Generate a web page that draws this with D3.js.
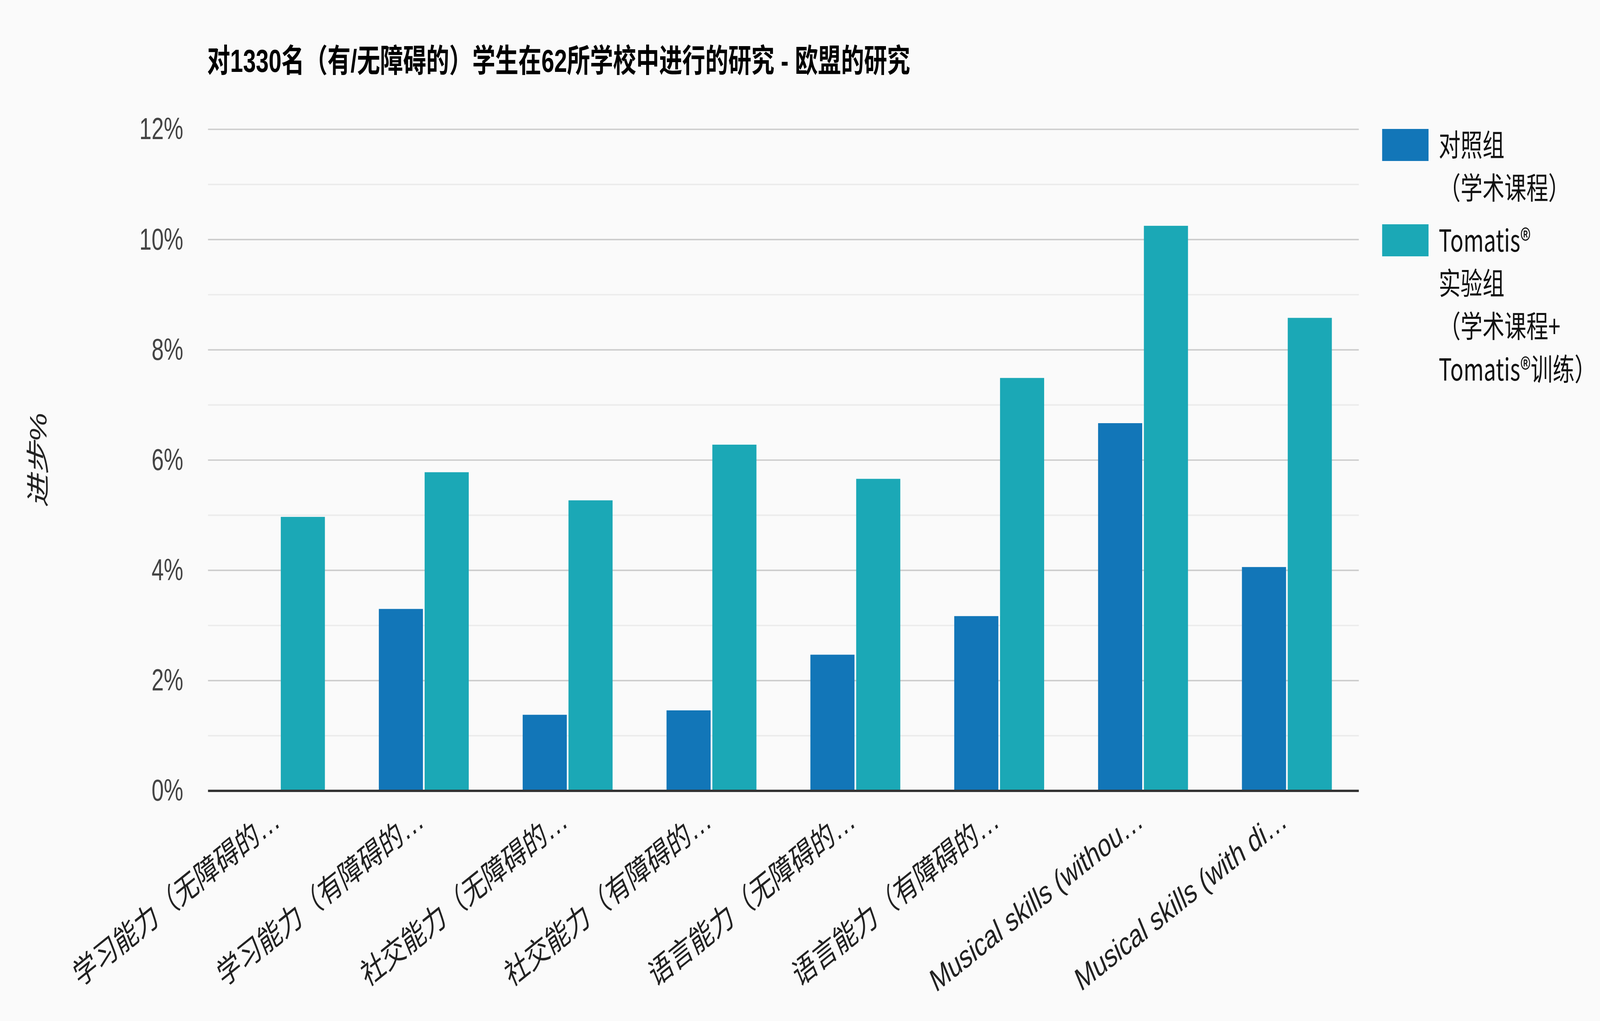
<!DOCTYPE html>
<html>
<head>
<meta charset="utf-8">
<style>
  html, body { margin: 0; padding: 0; background: #fafafa; overflow: hidden; }
  svg { display: block; width: 100vw; height: 100vh; }
</style>
<script src="https://cdn.jsdelivr.net/npm/d3@7/dist/d3.min.js"></script>
</head>
<body>
<svg id="chart"></svg>
<script>
  // data
  var title = "对1330名（有/无障碍的）学生在62所学校中进行的研究 - 欧盟的研究";
  var yTitle = "进步%";
  var categories = [
    "学习能力（无障碍的…",
    "学习能力（有障碍的…",
    "社交能力（无障碍的…",
    "社交能力（有障碍的…",
    "语言能力（无障碍的…",
    "语言能力（有障碍的…",
    "Musical skills (withou…",
    "Musical skills (with di…"
  ];
  var seriesNames = ["control", "tomatis"];
  var controlValues = [0, 3.3, 1.38, 1.46, 2.47, 3.17, 6.67, 4.06];
  var tomatisValues = [4.97, 5.78, 5.27, 6.28, 5.66, 7.49, 10.25, 8.58];
  var legendLines = [
    ["对照组", "（学术课程）"],
    ["Tomatis®", "实验组", "（学术课程+", "Tomatis®训练）"]
  ];
  var yTicks = [0, 2, 4, 6, 8, 10, 12];
  var yMinorTicks = [1, 3, 5, 7, 9, 11];

  (function draw() {
    var colors = ["#1276b8", "#1ba8b6"];
    // drawn in the reference's own 5692x2613 frame, then fitted to the window
    var W = 5692, H = 2613;
    var latin = "Arial, 'Liberation Sans', 'Noto Sans CJK SC', sans-serif";
    var cjk = "'Noto Sans CJK SC', 'Noto Sans', sans-serif";

    var svg = d3.select("#chart")
      .attr("viewBox", "0 0 " + W + " " + H)
      .attr("preserveAspectRatio", "none");
    svg.append("rect").attr("width", W).attr("height", H).attr("fill", "#fafafa");

    var margin = { left: 740, right: 4834, top: 331, bottom: 2024 };

    var x = d3.scaleBand()
      .domain(d3.range(categories.length))
      .range([margin.left, margin.right])
      .paddingInner(0.375)
      .paddingOuter(0.1875);

    var xs = d3.scaleBand()
      .domain(seriesNames)
      .range([0, x.bandwidth()])
      .paddingInner(0.037);

    var y = d3.scaleLinear().domain([0, 12]).range([margin.bottom, margin.top]);

    // minor and major gridlines
    svg.append("g").selectAll("line").data(yMinorTicks).enter()
      .append("line")
      .attr("x1", margin.left).attr("x2", margin.right)
      .attr("y1", function (d) { return y(d); })
      .attr("y2", function (d) { return y(d); })
      .attr("stroke", "#ebebeb").attr("stroke-width", 3.6);

    svg.append("g").selectAll("line").data(yTicks.slice(1)).enter()
      .append("line")
      .attr("x1", margin.left).attr("x2", margin.right)
      .attr("y1", function (d) { return y(d); })
      .attr("y2", function (d) { return y(d); })
      .attr("stroke", "#cccccc").attr("stroke-width", 3.6);

    // y axis labels
    var yAxis = svg.append("g")
      .attr("transform", "translate(" + (margin.left - 88) + ",0)")
      .call(d3.axisLeft(y).tickValues(yTicks).tickSize(0).tickPadding(0)
        .tickFormat(function (d) { return d + "%"; }));
    yAxis.select(".domain").remove();
    yAxis.selectAll("text")
      .attr("font-family", latin)
      .attr("font-size", 78)
      .attr("fill", "#444444");

    // bars
    var rows = categories.map(function (c, i) {
      return { i: i, values: [controlValues[i], tomatisValues[i]] };
    });

    var groups = svg.append("g").selectAll("g").data(rows).enter()
      .append("g")
      .attr("transform", function (d) { return "translate(" + x(d.i) + ",0)"; });

    groups.selectAll("rect")
      .data(function (d) {
        return d.values
          .map(function (v, k) { return { key: seriesNames[k], k: k, v: v }; })
          .filter(function (e) { return e.v > 0; });
      })
      .enter().append("rect")
      .attr("x", function (d) { return xs(d.key); })
      .attr("y", function (d) { return y(d.v); })
      .attr("width", xs.bandwidth())
      .attr("height", function (d) { return y(0) - y(d.v); })
      .attr("fill", function (d) { return colors[d.k]; });

    // baseline
    svg.append("line")
      .attr("x1", margin.left).attr("x2", margin.right)
      .attr("y1", y(0)).attr("y2", y(0))
      .attr("stroke", "#333333").attr("stroke-width", 6);

    // x labels, slanted
    svg.append("g").selectAll("text").data(categories).enter()
      .append("text")
      .attr("transform", function (d, i) {
        return "translate(" + (x(i) + x.bandwidth() / 2 + 6) + "," + (margin.bottom + 88) + ") rotate(-30)";
      })
      .attr("text-anchor", "end")
      .attr("font-family", latin)
      .attr("font-size", 83)
      .attr("fill", "#222222")
      .text(function (d) { return d; });

    // title
    svg.append("text")
      .attr("x", 737).attr("y", 184)
      .attr("font-family", latin)
      .attr("font-weight", "bold")
      .attr("font-size", 82)
      .attr("fill", "#000000")
      .text(title);

    // y axis title
    svg.append("text")
      .attr("transform", "translate(165," + ((margin.top + margin.bottom) / 2) + ") rotate(-90)")
      .attr("text-anchor", "middle")
      .attr("font-family", latin)
      .attr("font-style", "italic")
      .attr("font-size", 84)
      .attr("fill", "#222222")
      .text(yTitle);

    // legend
    var lineH = 110, entryTop = 330;
    legendLines.forEach(function (lines, k) {
      var g = svg.append("g").attr("transform", "translate(4917," + entryTop + ")");
      g.append("rect")
        .attr("width", 165).attr("height", 82)
        .attr("fill", colors[k]);
      g.selectAll("text").data(lines).enter()
        .append("text")
        .attr("x", 201)
        .attr("y", function (d, j) { return 70 + j * lineH; })
        .attr("font-family", cjk)
        .attr("font-size", 78)
        .attr("fill", "#111111")
        .text(function (d) { return d; });
      entryTop += lines.length * lineH + 24;
    });
  })();
</script>
</body>
</html>
